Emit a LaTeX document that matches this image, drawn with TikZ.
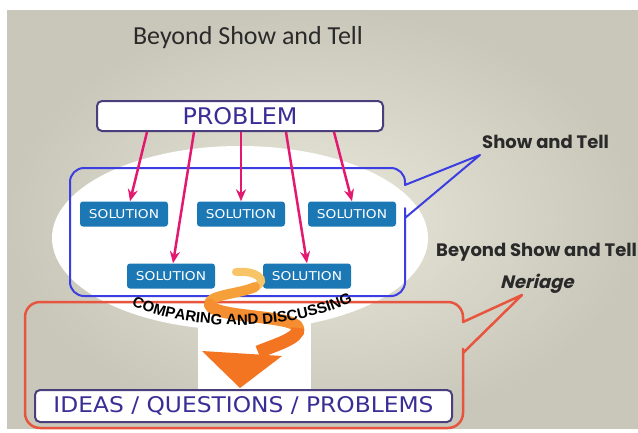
\documentclass[tikz,border=0pt]{standalone}
\usepackage{fontspec}
\setmainfont{Liberation Sans}
\newfontfamily\titlefont{Carlito}
\newfontfamily\gothic{Poppins}
\newfontfamily\boxfont{DejaVu Sans}
\newfontfamily\arcfont{Liberation Sans}
\usetikzlibrary{arrows.meta,decorations.text,calc}
\definecolor{bgin}{HTML}{E9E7DA}
\definecolor{bgout}{HTML}{C9C7BA}
\definecolor{boxedge}{HTML}{4A3F7C}
\definecolor{probtext}{HTML}{3A2D96}
\definecolor{solblue}{HTML}{1B78B5}
\definecolor{pinkarr}{HTML}{E3196F}
\definecolor{callblue}{HTML}{3B3EE0}
\definecolor{callred}{HTML}{E8553E}
\definecolor{orA}{HTML}{F8C468}
\definecolor{orB}{HTML}{F6A03A}
\definecolor{orC}{HTML}{F37421}
\definecolor{labtext}{HTML}{2A2A2A}
\begin{document}
\begin{tikzpicture}[x=1pt,y=1pt,
  probbox/.style={draw=boxedge, line width=2pt, fill=white, rounded corners=5pt,
    inner sep=0pt, text=probtext, font=\boxfont},
  solbox/.style={fill=solblue, rounded corners=3pt, minimum width=88pt,
    minimum height=25pt, inner sep=0pt, text=white, font=\boxfont},
  pinkarrow/.style={draw=pinkarr, line width=2.5pt,
    -{Stealth[length=12pt,width=10pt]}},
  callout/.style={line width=2pt, line join=round},
  label/.style={text=labtext, font=\gothic\bfseries\fontsize{18}{18}\selectfont, inner sep=0pt},
  squig/.style={line cap=round}
]
\newcommand{\soltext}{\resizebox{70pt}{9pt}{SOLUTION}}
\useasboundingbox (0,0) rectangle (638,-432);
\fill[white] (0,0) rectangle (638,-432);
\shade[inner color=bgin, outer color=bgout] (7,-10) rectangle (638,-428);
% white backdrop
\fill[white] (240,-238) ellipse [x radius=188, y radius=92];
\fill[white] (198,-300) rectangle (311,-392);
% blue callout
\coordinate (btip) at (480,-155);
\draw[callout, draw=callblue] (405,-200) [sharp corners]-- (405,-218) -- (btip) -- (405,-185)
  [rounded corners=14pt]-- (405,-168) -- (70,-168) -- (70,-296) -- (405,-296) -- cycle;
% red callout
\coordinate (rtip) at (522,-295);
\draw[callout, draw=callred, line width=2.5pt] (463,-340) [sharp corners]-- (463,-353) -- (rtip) -- (463,-322)
  [rounded corners=15pt]-- (463,-302) -- (25,-302) -- (25,-428) -- (463,-428) -- cycle;
% title
\node[text=labtext, font=\titlefont\fontsize{26}{26}\selectfont] (title) at (248,-38) {Beyond Show and Tell};
% problem box
\node[probbox, minimum width=286pt, minimum height=30pt] (prob) at (240,-116)
  {\resizebox{115pt}{17pt}{PROBLEM}};
% solutions
\node[solbox] (s1) at (124,-214) {\soltext};
\node[solbox] (s2) at (241,-214) {\soltext};
\node[solbox] (s3) at (352,-214) {\soltext};
\node[solbox] (s4) at (171,-276) {\soltext};
\node[solbox] (s5) at (307,-276) {\soltext};
% pink arrows
\draw[pinkarrow] ([xshift=51pt]prob.south west) -- ([xshift=6pt]s1.north);
\draw[pinkarrow] ([xshift=98pt]prob.south west) -- ([xshift=2pt]s4.north);
\draw[pinkarrow] ([xshift=145pt]prob.south west) -- (s2.north);
\draw[pinkarrow] ([xshift=190pt]prob.south west) -- (s5.north);
\draw[pinkarrow] ([xshift=238pt]prob.south west) -- (s3.north);
% orange squiggle arrow
\coordinate (oa) at (236,-272);
\coordinate (ob) at (255,-287);
\coordinate (oc) at (210,-305);
\coordinate (od) at (298,-328);
\coordinate (oe) at (258,-352);
\draw[squig, draw=orA, line width=8pt] (oa) .. controls (255,-270) and (270,-280) .. (ob);
\draw[squig, draw=orB, line width=10pt] (ob) .. controls (240,-294) and (205,-295) .. (oc);
\draw[squig, draw=orB!60!orC, line width=12pt] (oc) .. controls (215,-318) and (295,-315) .. (od);
\draw[squig, draw=orC, line width=13pt, line cap=butt] (od) .. controls (300,-338) and (275,-345) .. (oe);
\fill[orC] (202,-351) -- (282,-356) -- (240,-388) -- cycle;
% curved text
\path[decorate, decoration={text along path, text align=center,
  text={|\arcfont\bfseries\fontsize{15}{15}\selectfont\color{black}|COMPARING AND DISCUSSING}}]
  (122,-300) .. controls (180,-334) and (300,-334) .. (362,-296);
% ideas box
\node[probbox, minimum width=417pt, minimum height=32pt] (ideas) at (243.5,-406)
  {\resizebox{380pt}{16pt}{IDEAS / QUESTIONS / PROBLEMS}};
% labels
\node[label, anchor=west] (lshow) at (482,-142) {Show and Tell};
\node[label, anchor=west] (lbeyond) at (436,-252) {Beyond Show and Tell};
\node[label, xslant=0.25, anchor=center] (lneriage) at (538,-284) {Neriage};
\end{tikzpicture}
\end{document}
